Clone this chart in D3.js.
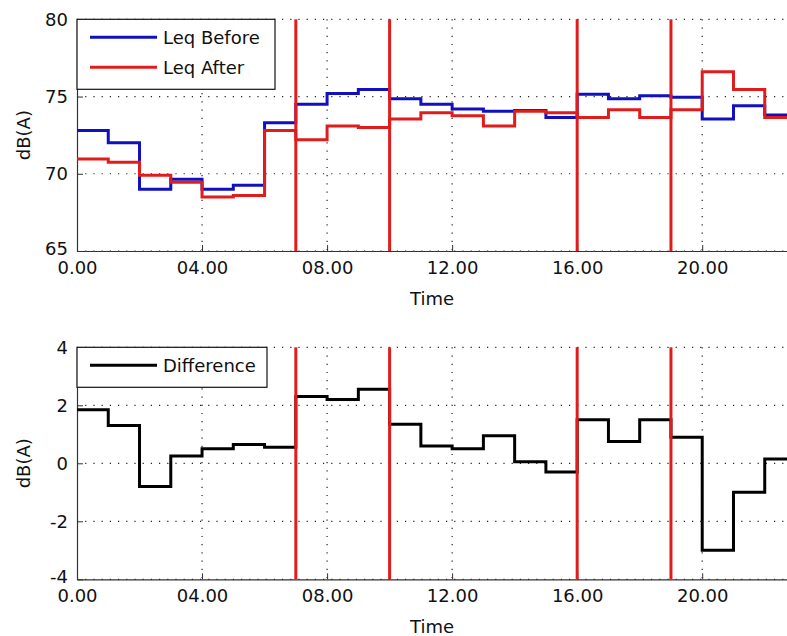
<!DOCTYPE html>
<html>
<head>
<meta charset="utf-8">
<script src="https://cdn.jsdelivr.net/npm/d3@7"></script>
<style>
	body { margin: 0; background: #fff; overflow: hidden; }
	svg { display: block; }
	text { font-family: "DejaVu Sans", sans-serif; font-size: 18px; fill: #111; }
</style>
</head>
<body>
<div id="chart"></div>
<script>
// hourly levels, one value per hour from 0.00 to 22.00
var leqBefore = [72.8, 72.0, 69.0, 69.65, 69.0, 69.25, 73.3, 74.5, 75.2, 75.45, 74.85, 74.5,
	74.2, 74.05, 74.1, 73.65, 75.15, 74.85, 75.05, 74.95, 73.55, 74.4, 73.8];
var leqAfter = [70.95, 70.75, 69.9, 69.45, 68.5, 68.6, 72.8, 72.2, 73.1, 73.0, 73.55, 73.95,
	73.75, 73.1, 74.05, 73.95, 73.65, 74.15, 73.65, 74.15, 76.6, 75.45, 73.65];
var difference = [1.85, 1.3, -0.8, 0.25, 0.5, 0.65, 0.55, 2.3, 2.2, 2.55, 1.35, 0.6,
	0.5, 0.95, 0.05, -0.3, 1.5, 0.75, 1.5, 0.9, -3.0, -1.0, 0.15];
var markerHours = [7, 10, 16, 19];
var xTicks = [0, 4, 8, 12, 16, 20];
var xTickLabels = ["0.00", "04.00", "08.00", "12.00", "16.00", "20.00"];
var topTicks = [65, 70, 75, 80];
var bottomTicks = [-4, -2, 0, 2, 4];

var W = 787, H = 636;
var svg = d3.select("#chart").append("svg").attr("width", W).attr("height", H);

// x runs to 23.00, the right edge falls just outside the window
var x = d3.scaleLinear().domain([0, 23]).range([77, 796]);

function panel(y0, y1, domain, ticks, series, legend) {
	var y = d3.scaleLinear().domain(domain).range([y1, y0]);
	var g = svg.append("g");

	// dotted grid
	g.selectAll(".hg").data(ticks).enter().append("line")
		.attr("x1", x.range()[0]).attr("x2", x.range()[1])
		.attr("y1", d => y(d)).attr("y2", d => y(d))
		.attr("stroke", "#222").attr("stroke-width", 1.2).attr("stroke-dasharray", "1.2,7");
	g.selectAll(".vg").data(xTicks.slice(1)).enter().append("line")
		.attr("x1", d => x(d)).attr("x2", d => x(d))
		.attr("y1", y0).attr("y2", y1)
		.attr("stroke", "#222").attr("stroke-width", 1.2).attr("stroke-dasharray", "1.2,7");

	// axes
	var xAxis = d3.axisBottom(x).tickValues(xTicks)
		.tickFormat((d, i) => xTickLabels[i]).tickSizeInner(-6).tickSizeOuter(0).tickPadding(13);
	var gx = g.append("g").attr("transform", "translate(0," + y1 + ")").call(xAxis);
	var yAxis = d3.axisLeft(y).tickValues(ticks).tickFormat(d => String(d))
		.tickSizeInner(-6).tickSizeOuter(0).tickPadding(9);
	var gy = g.append("g").attr("transform", "translate(" + x.range()[0] + ",0)").call(yAxis);
	[gx, gy].forEach(a => {
		a.select(".domain").attr("stroke", "#333").attr("stroke-width", 1.2);
		a.selectAll(".tick line").attr("stroke", "#333");
		a.selectAll("text").style("font-family", "DejaVu Sans, sans-serif").style("font-size", "18px").attr("fill", "#111");
	});
	gx.selectAll("text").attr("dy", "0.55em");
	gy.selectAll("text").attr("dy", (d, i) => i == 0 ? "0.18em" : "0.32em");

	g.append("text").attr("x", 432).attr("y", y1 + 54).attr("text-anchor", "middle").text("Time");
	g.append("text").attr("transform", "translate(30," + ((y0 + y1) / 2) + ") rotate(-90)")
		.attr("text-anchor", "middle").text("dB(A)");

	// stairs
	var line = d3.line().x(d => x(d[0])).y(d => y(d[1])).curve(d3.curveStepAfter);
	series.forEach(s => {
		var pts = s.values.map((v, i) => [i, v]);
		pts.push([s.values.length, s.values[s.values.length - 1]]);
		g.append("path").attr("d", line(pts)).attr("fill", "none")
			.attr("stroke", s.color).attr("stroke-width", 3).attr("stroke-linejoin", "miter");
	});

	// change-over markers
	g.selectAll(".mk").data(markerHours).enter().append("line")
		.attr("x1", d => x(d)).attr("x2", d => x(d))
		.attr("y1", y0).attr("y2", y1)
		.attr("stroke", "#e01c1c").attr("stroke-width", 3);

	// legend
	var lg = g.append("g");
	lg.append("rect").attr("x", x.range()[0]).attr("y", y0)
		.attr("width", legend.w).attr("height", series.length * 30 + 10)
		.attr("fill", "#fff").attr("stroke", "#111").attr("stroke-width", 1.2);
	series.forEach((s, i) => {
		var ly = y0 + 18 + i * 30;
		lg.append("line").attr("x1", 90).attr("x2", 157).attr("y1", ly).attr("y2", ly)
			.attr("stroke", s.color).attr("stroke-width", 3);
		lg.append("text").attr("x", 163).attr("y", ly).attr("dy", "0.36em").text(s.name);
	});
}

panel(19.3, 251, [65, 80], topTicks, [
	{ name: "Leq Before", values: leqBefore, color: "#1010c0" },
	{ name: "Leq After", values: leqAfter, color: "#e01c1c" }
], { w: 198 });

panel(347.3, 579.3, [-4, 4], bottomTicks, [
	{ name: "Difference", values: difference, color: "#000" }
], { w: 190 });
</script>
</body>
</html>
